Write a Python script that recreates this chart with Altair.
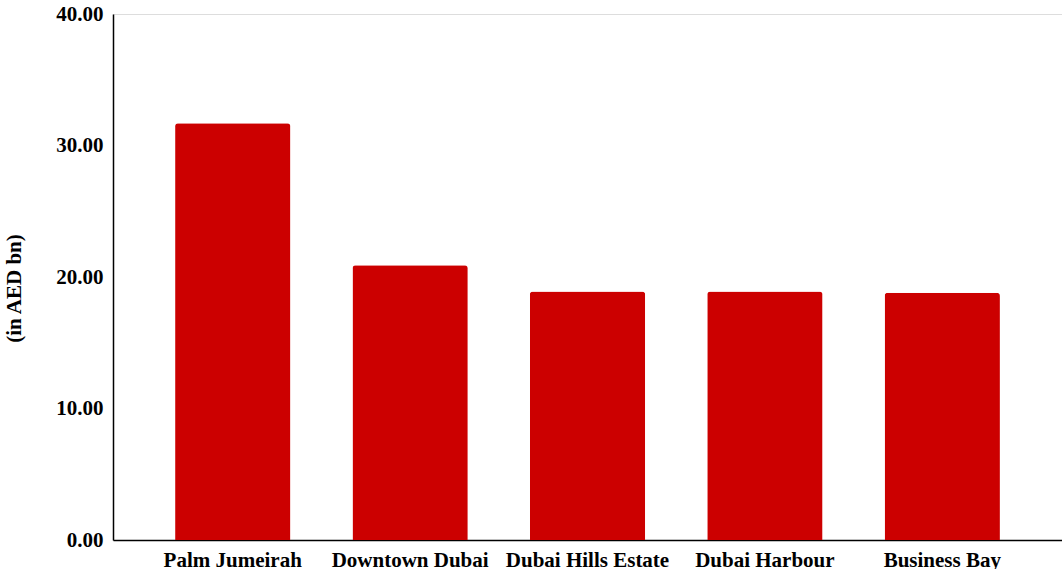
import altair as alt
import pandas as pd

areas = ["Palm Jumeirah", "Downtown Dubai", "Dubai Hills Estate", "Dubai Harbour", "Business Bay"]
values = [31.7, 20.9, 18.9, 18.9, 18.8]

df = pd.DataFrame({"area": areas, "value": values})

chart = alt.Chart(df).mark_bar(
    color="#CC0000", cornerRadiusTopLeft=3, cornerRadiusTopRight=3
).encode(
    x=alt.X("area:N", sort=areas,
            scale=alt.Scale(paddingInner=0.35, paddingOuter=0.35),
            axis=alt.Axis(title=None, labelAngle=0, ticks=False, domainColor="black",
                          domainWidth=1.5, labelFont="Liberation Serif", labelFontWeight="bold",
                          labelFontSize=21, labelColor="black", labelPadding=9, grid=False)),
    y=alt.Y("value:Q", scale=alt.Scale(domain=[0, 40], nice=False),
            axis=alt.Axis(title="(in AED bn)", values=[0, 10, 20, 30, 40], format=".2f",
                          ticks=False, grid=False, domainColor="black", domainWidth=1.5,
                          labelFont="Liberation Serif", labelFontWeight="bold", labelFontSize=21,
                          labelColor="black", labelPadding=10,
                          titleFont="Liberation Serif", titleFontWeight="bold", titleFontSize=21,
                          titleColor="black", titlePadding=31, titleY=274)),
).properties(
    width=949, height=526,
    autosize=alt.AutoSizeParams(type="none"),
    padding={"left": 113, "top": 14, "right": 0, "bottom": 29},
).configure_view(stroke=None).configure(background="white")

chart.save("out.html", embed_options={"renderer": "svg", "actions": False})
